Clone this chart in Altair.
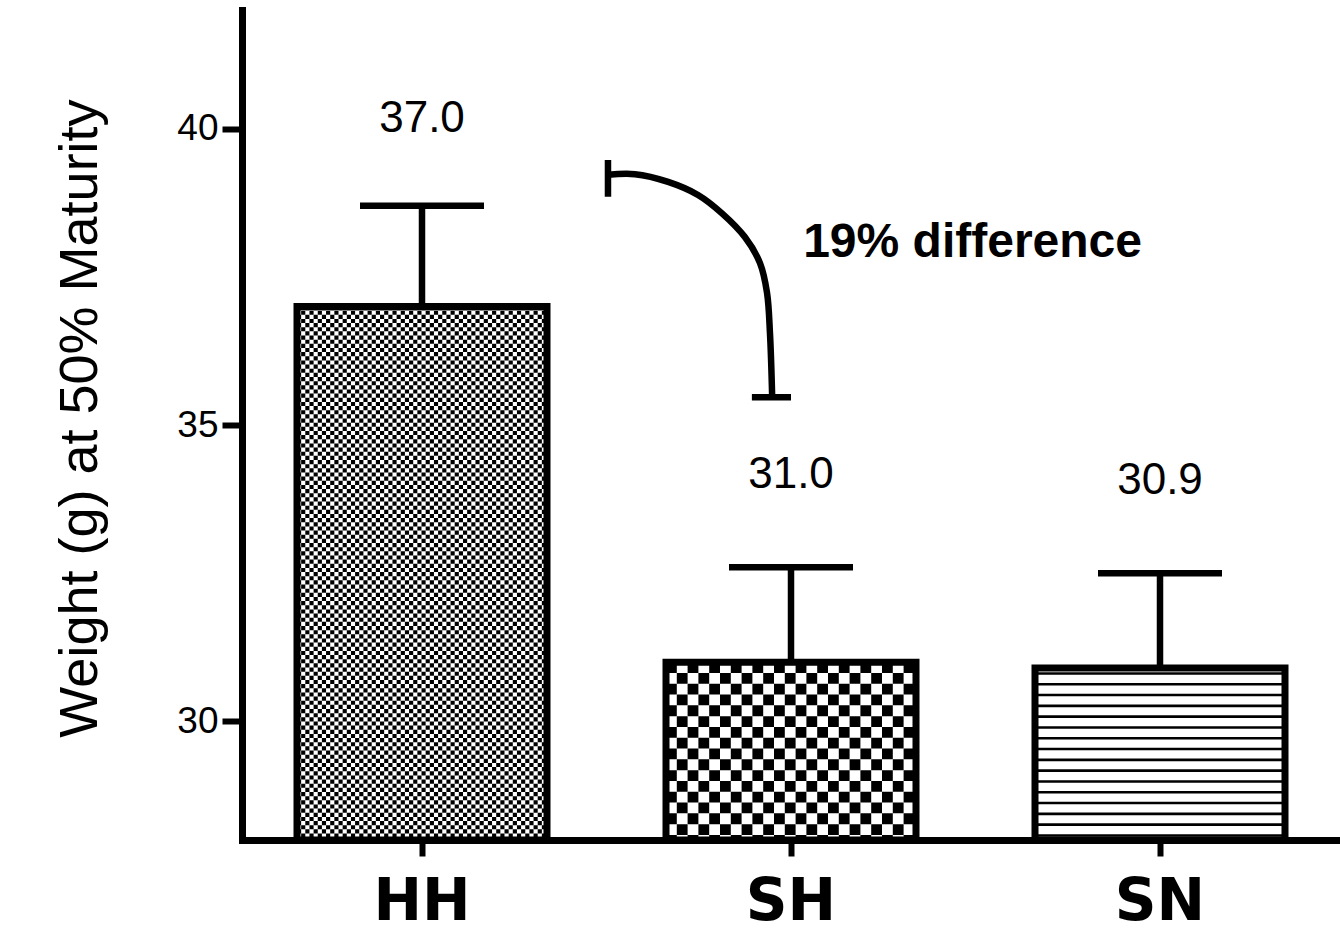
import altair as alt
import pandas as pd

# ---- data -------------------------------------------------------------
groups = ["HH", "SH", "SN"]
means = [37.0, 31.0, 30.9]
err_top = [38.7, 32.6, 32.5]

# curved bracket between HH and SH (x in category units, HH = 0; y in grams)
bracket_x = [0.504, 0.577, 0.667, 0.748, 0.813, 0.875, 0.916, 0.935, 0.943, 0.949]
bracket_y = [39.22, 39.23, 39.10, 38.88, 38.57, 38.17, 37.73, 37.23, 36.55, 35.47]
bracket_start_tick = [39.47, 38.85]      # y span of the end bar at the start
bracket_end_tick = [0.894, 1.0]          # x span of the end bar at the finish
note_text = "19% difference"
note_x, note_y = 1.033, 38.07

# ---- geometry ---------------------------------------------------------
W, H = 1098, 830
Y_MIN, Y_MAX = 28, 42
STEP, BAND = 369.0, 250.0
OUTER = (W - 3 * BAND - 2 * (STEP - BAND)) / 2
PAD_INNER = (STEP - BAND) / STEP
PAD_OUTER = OUTER / STEP
PX_PER_UNIT = H / (Y_MAX - Y_MIN)
U_LO = -(OUTER + BAND / 2) / STEP
U_HI = (W - OUTER - BAND / 2) / STEP
HALF_BAND = BAND / 2 / STEP

FONT = "Liberation Sans"
TITLE = "Weight (g) at 50% Maturity"
LINE_W = 6.5

y_scale = alt.Scale(domain=[Y_MIN, Y_MAX], nice=False, zero=False)
y_axis = alt.Axis(
    values=[30, 35, 40], grid=False,
    domainWidth=7, domainColor="black", domainCap="square",
    tickWidth=6, tickSize=20, tickColor="black",
    labelFont=FONT, labelFontSize=37, labelColor="black", labelPadding=4,
    titleFont=FONT, titleFontSize=54, titleFontWeight="normal", titleColor="black",
    titleX=-162, titleY=408, titleBaseline="middle",
)


def y_enc(field):
    return alt.Y(field, scale=y_scale, axis=y_axis, title=TITLE)


x_band = alt.X(
    "group:N", sort=groups, title=None,
    scale=alt.Scale(paddingInner=PAD_INNER, paddingOuter=PAD_OUTER),
    axis=alt.Axis(
        labelAngle=0, domainWidth=7, domainColor="black", domainCap="square",
        tickWidth=6, tickSize=16, tickColor="black",
        labelFont="DejaVu Sans", labelFontWeight="bold", labelFontSize=58,
        labelColor="black", labelPadding=17,
    ),
)
x_unit_scale = alt.Scale(domain=[U_LO, U_HI], nice=False, zero=False)

bars = pd.DataFrame({"group": groups, "mean": means, "err": err_top})

# ---- bars, error bars, value labels -------------------------------------
outline = alt.Chart(bars).mark_bar(
    fillOpacity=0, stroke="black", strokeWidth=7, strokeJoin="miter"
).encode(x=x_band, y=y_enc("mean:Q"), y2=alt.datum(Y_MIN))

err_line = alt.Chart(bars).mark_rule(color="black", strokeWidth=LINE_W).encode(
    x=x_band, y=y_enc("mean:Q"), y2="err:Q"
)
err_cap = alt.Chart(bars).mark_tick(
    orient="horizontal", size=124, thickness=LINE_W, color="black", opacity=1
).encode(x=x_band, y=y_enc("err:Q"))

labels = alt.Chart(bars).mark_text(
    dy=-187, fontSize=44, font=FONT, color="black", baseline="middle"
).encode(x=x_band, y=y_enc("mean:Q"), text=alt.Text("mean:Q", format=".1f"))

band_layer = alt.layer(outline, err_line, err_cap, labels)


# ---- fill textures (checkers and stripes) -------------------------------
def texture_rows(idx, top, size_px):
    step = size_px / PX_PER_UNIT
    rows = []
    k = 0
    while top - k * step > Y_MIN:
        rows.append({"x0": idx - HALF_BAND, "x1": idx + HALF_BAND,
                     "y": top - (k + 0.5) * step, "odd": k % 2})
        k += 1
    return pd.DataFrame(rows)


def checker(idx, size_px):
    df = texture_rows(idx, means[idx], size_px)
    layers = []
    for parity in (0, 1):
        layers.append(
            alt.Chart(df[df["odd"] == parity]).mark_rule(
                color="black", strokeWidth=size_px, strokeDash=[size_px, size_px],
                strokeDashOffset=size_px * parity, clip=True,
            ).encode(
                x=alt.X("x0:Q", scale=x_unit_scale, axis=None),
                x2="x1:Q", y=y_enc("y:Q"),
            )
        )
    return layers


def stripes(idx, period_px, width_px):
    df = texture_rows(idx, means[idx], period_px)
    return alt.Chart(df).mark_rule(
        color="black", strokeWidth=width_px, clip=True
    ).encode(
        x=alt.X("x0:Q", scale=x_unit_scale, axis=None),
        x2="x1:Q", y=y_enc("y:Q"),
    )


texture_layer = alt.layer(*checker(0, 4.15), *checker(1, 10.8), stripes(2, 10.8, 2.6))

# ---- bracket annotation -------------------------------------------------
curve = pd.DataFrame({"bx": bracket_x, "by": bracket_y, "k": range(len(bracket_x))})
bracket = alt.Chart(curve).mark_line(
    color="black", strokeWidth=LINE_W, interpolate="catmull-rom"
).encode(
    x=alt.X("bx:Q", scale=x_unit_scale, axis=None),
    y=y_enc("by:Q"), order="k:O",
)
start_tick = alt.Chart(pd.DataFrame({
    "bx": [bracket_x[0]], "y0": [bracket_start_tick[0]], "y1": [bracket_start_tick[1]]
})).mark_rule(color="black", strokeWidth=LINE_W).encode(
    x=alt.X("bx:Q", scale=x_unit_scale, axis=None), y=y_enc("y0:Q"), y2="y1:Q"
)
end_tick = alt.Chart(pd.DataFrame({
    "x0": [bracket_end_tick[0]], "x1": [bracket_end_tick[1]], "by": [bracket_y[-1]]
})).mark_rule(color="black", strokeWidth=LINE_W).encode(
    x=alt.X("x0:Q", scale=x_unit_scale, axis=None), x2="x1:Q", y=y_enc("by:Q")
)
note = alt.Chart(pd.DataFrame({"nx": [note_x], "ny": [note_y], "t": [note_text]})).mark_text(
    align="left", baseline="middle", fontSize=48, fontWeight="bold", font=FONT, color="black"
).encode(
    x=alt.X("nx:Q", scale=x_unit_scale, axis=None), y=y_enc("ny:Q"), text="t:N"
)
annotation_layer = alt.layer(bracket, start_tick, end_tick, note)

chart = alt.layer(texture_layer, band_layer, annotation_layer).resolve_scale(
    x="independent"
).properties(
    width=W, height=H,
    autosize=alt.AutoSizeParams(type="none"),
    padding={"left": 242, "top": 10, "right": 0, "bottom": 93},
    background="white",
).configure_view(strokeWidth=0)

chart.save("out.html", embed_options={"renderer": "svg", "actions": False})
